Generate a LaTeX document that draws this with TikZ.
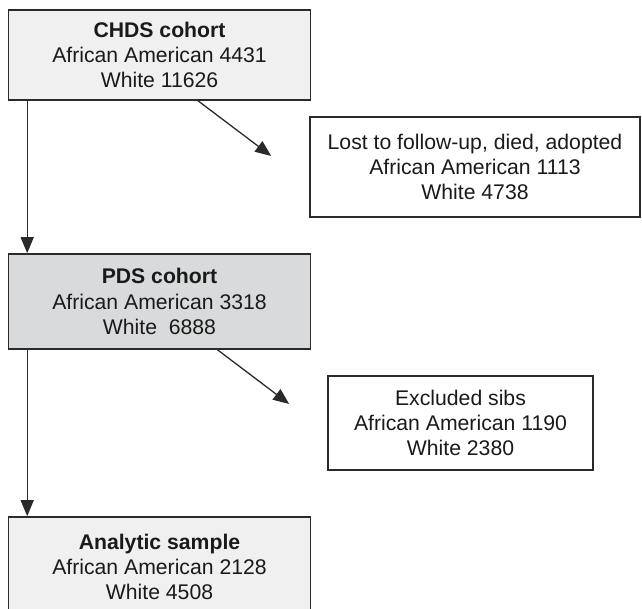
\documentclass[tikz,border=0pt]{standalone}
\usepackage{fontspec}
\setmainfont{Liberation Sans}
\usetikzlibrary{arrows.meta}
\definecolor{boxline}{HTML}{2A2A2A}
\definecolor{txt}{HTML}{1A1A1A}
\definecolor{lightfill}{HTML}{F0F0F1}
\definecolor{darkfill}{HTML}{D9DADB}
\tikzset{
  box/.style={draw=boxline, line width=0.8pt, rectangle, align=center, inner sep=0pt,
    text=txt, font=\fontsize{10.6pt}{12.7pt}\selectfont},
  arr/.style={draw=boxline, line width=0.65pt, -{Triangle[length=8pt,width=6.5pt]}}
}
\begin{document}
\begin{tikzpicture}[x=0.5pt,y=-0.5pt]
\useasboundingbox (0,0) rectangle (642,609);
\clip (0,0) rectangle (642,609);
\node[box, fill=lightfill, minimum width=151pt, minimum height=45pt] (chds) at (159.5,55)
  {\textbf{CHDS cohort}\\African American 4431\\White 11626};
\node[box, fill=white, minimum width=165pt, minimum height=50pt] (lost) at (475,167)
  {Lost to follow-up, died, adopted\\African American 1113\\White 4738};
\node[box, fill=darkfill, minimum width=151pt, minimum height=47.5pt] (pds) at (159.5,301.5)
  {\textbf{PDS cohort}\\African American 3318\\White\ \ 6888};
\node[box, fill=white, minimum width=132.5pt, minimum height=47pt] (excl) at (460.5,423)
  {Excluded sibs\\African American 1190\\White 2380};
\node[box, fill=lightfill, minimum width=151pt, minimum height=50pt] (anal) at (159.5,567)
  {\textbf{Analytic sample}\\African American 2128\\White 4508};
\draw[arr] ([xshift=9.75pt]chds.south west) -- ([xshift=9.75pt]pds.north west);
\draw[arr] ([xshift=19.25pt]chds.south) -- ([xshift=-19pt,yshift=5.5pt]lost.west);
\draw[arr] ([xshift=9.75pt]pds.south west) -- ([xshift=9.75pt]anal.north west);
\draw[arr] ([xshift=29pt]pds.south) -- ([xshift=-19pt,yshift=9.5pt]excl.west);
\end{tikzpicture}
\end{document}
